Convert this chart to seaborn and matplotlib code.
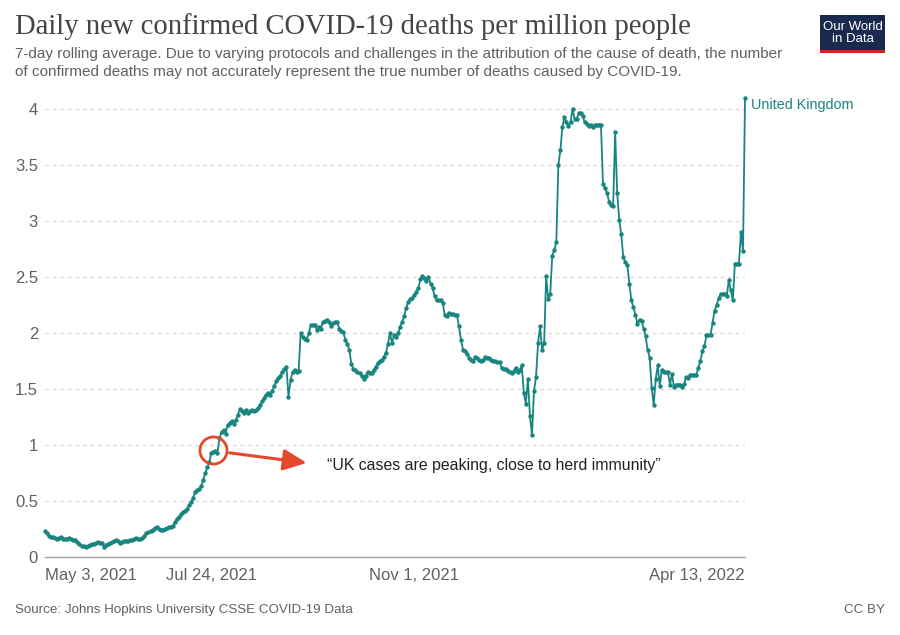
import numpy as np
import pandas as pd
import seaborn as sns
import matplotlib.pyplot as plt
from matplotlib.patches import Rectangle

# 7-day rolling average of daily confirmed deaths per million, UK
start_date = "2021-05-03"
deaths_per_million = [
    0.23, 0.21, 0.19, 0.18, 0.18, 0.17, 0.165, 0.17, 0.18, 0.16,
    0.16, 0.165, 0.17, 0.165, 0.155, 0.15, 0.13, 0.115, 0.10, 0.095,
    0.09, 0.10, 0.107, 0.115, 0.12, 0.128, 0.13, 0.128, 0.128, 0.092,
    0.105, 0.116, 0.125, 0.13, 0.14, 0.152, 0.14, 0.128, 0.135, 0.14,
    0.146, 0.145, 0.15, 0.155, 0.16, 0.167, 0.16, 0.158, 0.17, 0.19,
    0.21, 0.22, 0.23, 0.245, 0.255, 0.265, 0.25, 0.24, 0.245, 0.25,
    0.256, 0.265, 0.272, 0.28, 0.31, 0.34, 0.36, 0.38, 0.40, 0.415,
    0.43, 0.46, 0.49, 0.53, 0.58, 0.595, 0.61, 0.63, 0.69, 0.75,
    0.80, 0.85, 0.93, 0.94, 0.95, 0.93, 1.06, 1.12, 1.13, 1.10,
    1.18, 1.20, 1.21, 1.19, 1.22, 1.27, 1.32, 1.30, 1.29, 1.31,
    1.29, 1.30, 1.31, 1.30, 1.31, 1.33, 1.36, 1.39, 1.42, 1.45,
    1.46, 1.45, 1.48, 1.53, 1.57, 1.60, 1.62, 1.65, 1.68, 1.70,
    1.43, 1.58, 1.65, 1.67, 1.65, 1.66, 2.00, 1.96, 1.95, 1.94,
    2.00, 2.07, 2.07, 2.07, 2.03, 2.05, 2.04, 2.10, 2.11, 2.12,
    2.10, 2.06, 2.09, 2.10, 2.10, 2.04, 2.02, 2.01, 1.94, 1.90,
    1.85, 1.72, 1.68, 1.67, 1.65, 1.64, 1.62, 1.59, 1.62, 1.65,
    1.64, 1.64, 1.67, 1.70, 1.73, 1.75, 1.76, 1.79, 1.82, 1.90,
    2.00, 1.91, 1.98, 1.96, 2.00, 2.05, 2.10, 2.15, 2.22, 2.28,
    2.30, 2.31, 2.34, 2.37, 2.40, 2.48, 2.51, 2.49, 2.46, 2.50,
    2.44, 2.40, 2.33, 2.29, 2.29, 2.29, 2.27, 2.16, 2.15, 2.18,
    2.17, 2.17, 2.16, 2.16, 2.06, 1.94, 1.85, 1.84, 1.81, 1.78,
    1.76, 1.75, 1.79, 1.78, 1.76, 1.75, 1.76, 1.79, 1.78, 1.78,
    1.76, 1.75, 1.75, 1.74, 1.74, 1.69, 1.68, 1.68, 1.66, 1.65,
    1.64, 1.66, 1.69, 1.65, 1.67, 1.71, 1.46, 1.37, 1.59, 1.26,
    1.09, 1.48, 1.61, 1.91, 2.06, 1.85, 1.91, 2.51, 2.30, 2.35,
    2.69, 2.74, 2.81, 3.50, 3.63, 3.84, 3.93, 3.88, 3.85, 3.88,
    4.00, 3.91, 3.91, 3.96, 3.96, 3.94, 3.88, 3.87, 3.85, 3.86,
    3.84, 3.86, 3.86, 3.86, 3.86, 3.33, 3.29, 3.25, 3.17, 3.14,
    3.13, 3.79, 3.25, 3.01, 2.88, 2.68, 2.63, 2.61, 2.44, 2.29,
    2.23, 2.16, 2.08, 2.12, 2.11, 2.04, 1.97, 1.85, 1.78, 1.51,
    1.36, 1.59, 1.71, 1.53, 1.67, 1.65, 1.65, 1.65, 1.54, 1.63,
    1.52, 1.54, 1.54, 1.54, 1.52, 1.545, 1.61, 1.60, 1.625, 1.625,
    1.625, 1.625, 1.69, 1.75, 1.84, 1.88, 1.98, 1.98, 1.98, 2.09,
    2.20, 2.25, 2.31, 2.35, 2.35, 2.35, 2.33, 2.47, 2.38, 2.29,
    2.62, 2.62, 2.62, 2.90, 2.73, 4.10,
]
country = "United Kingdom"

tick_dates = ["2021-05-03", "2021-07-24", "2021-11-01", "2022-04-13"]
tick_labels = ["May 3, 2021", "Jul 24, 2021", "Nov 1, 2021", "Apr 13, 2022"]
y_ticks = [0, 0.5, 1, 1.5, 2, 2.5, 3, 3.5, 4]

# annotation: circled point, arrow and quote
circle_date, circle_value = "2021-07-25", 0.955
arrow_from_date, arrow_from_value = "2021-08-02", 0.93
arrow_to_date, arrow_to_value = "2021-09-09", 0.84
quote_date, quote_value = "2021-09-19", 0.82
quote = "\u201cUK cases are peaking, close to herd immunity\u201d"

title = "Daily new confirmed COVID-19 deaths per million people"
subtitle = ("7-day rolling average. Due to varying protocols and challenges in the attribution of the cause of death, the number\n"
            "of confirmed deaths may not accurately represent the true number of deaths caused by COVID-19.")
source = "Source: Johns Hopkins University CSSE COVID-19 Data"

line_color = "#18857f"
red = "#e5482b"
grey_text = "#606060"

df = pd.DataFrame({
    "date": pd.date_range(start_date, periods=len(deaths_per_million), freq="D"),
    "deaths": deaths_per_million,
})

sns.set_style("white")
plt.rcParams["font.family"] = ["Liberation Sans", "DejaVu Sans"]

fig = plt.figure(figsize=(9, 6.35), dpi=100)
ax = fig.add_axes([0.05, 0.1228, 0.7778, 0.7268])

sns.lineplot(data=df, x="date", y="deaths", ax=ax, color=line_color, linewidth=1.3,
             marker="o", markersize=3.2, markeredgewidth=0, clip_on=False, zorder=3)

ax.set_xlim(df["date"].iloc[0], df["date"].iloc[-1])
ax.set_ylim(0, 4.12)
ax.set_xlabel("")
ax.set_ylabel("")

ax.set_yticks(y_ticks)
ax.set_yticklabels([f"{v:g}" for v in y_ticks])
for v in y_ticks[1:]:
    ax.axhline(v, color="#d9d9d9", lw=0.9, ls=(0, (3, 3)), zorder=0)

ax.set_xticks(pd.to_datetime(tick_dates))
ax.set_xticklabels(tick_labels)
xt = ax.get_xticklabels()
xt[0].set_horizontalalignment("left")
xt[-1].set_horizontalalignment("right")

ax.tick_params(axis="x", length=5, width=0.8, color="#999999", labelsize=12,
               labelcolor=grey_text, pad=3)
ax.tick_params(axis="y", length=0, labelsize=12, labelcolor=grey_text, pad=5)
for s in ["top", "right", "left"]:
    ax.spines[s].set_visible(False)
ax.spines["bottom"].set_color("#a0a0a0")
ax.spines["bottom"].set_linewidth(1)

# series label at line end
ax.annotate(country, xy=(df["date"].iloc[-1], df["deaths"].iloc[-1]),
            xytext=(4, -5), textcoords="offset points", color=line_color,
            fontsize=10.4, va="center", ha="left", annotation_clip=False)

# circled point + arrow + quote
ax.plot(pd.Timestamp(circle_date), circle_value, marker="o", markersize=19.5,
        markerfacecolor="none", markeredgecolor=red, markeredgewidth=2, zorder=4)
ax.annotate("", xy=(pd.Timestamp(arrow_to_date), arrow_to_value),
            xytext=(pd.Timestamp(arrow_from_date), arrow_from_value),
            arrowprops=dict(arrowstyle="-|>,head_length=0.55,head_width=0.25", color=red,
                            lw=2.2, mutation_scale=26, shrinkA=0, shrinkB=0))
ax.text(pd.Timestamp(quote_date), quote_value, quote, fontsize=11.4, color="#222222",
        va="center", ha="left")

# header
fig.text(15 / 900, 1 - 27 / 635, title, family=["Liberation Serif", "DejaVu Serif"],
         fontsize=20.6, color="#454545", va="center", ha="left")
fig.text(15 / 900, 1 - 63 / 635, subtitle, fontsize=11, color=grey_text,
         va="center", ha="left", linespacing=1.3)

# logo
logo_l, logo_b, logo_w, logo_h = 820 / 900, 1 - 53 / 635, 65 / 900, 38 / 635
fig.patches.append(Rectangle((logo_l, logo_b), logo_w, logo_h, transform=fig.transFigure,
                             facecolor="#1a2a4f", edgecolor="none"))
fig.patches.append(Rectangle((logo_l, logo_b), logo_w, 3 / 635, transform=fig.transFigure,
                             facecolor="#ce261e", edgecolor="none"))
fig.text(logo_l + logo_w / 2, logo_b + logo_h / 2 + 1 / 635, "Our World\nin Data", color="white",
         fontsize=9.5, ha="center", va="center", linespacing=1.0)

# footer
fig.text(15 / 900, 1 - 610 / 635, source, fontsize=9.6, color=grey_text, va="center", ha="left")
fig.text(885 / 900, 1 - 610 / 635, "CC BY", fontsize=9.6, color=grey_text, va="center", ha="right")

fig.savefig("out.png", dpi=100, facecolor="white")
